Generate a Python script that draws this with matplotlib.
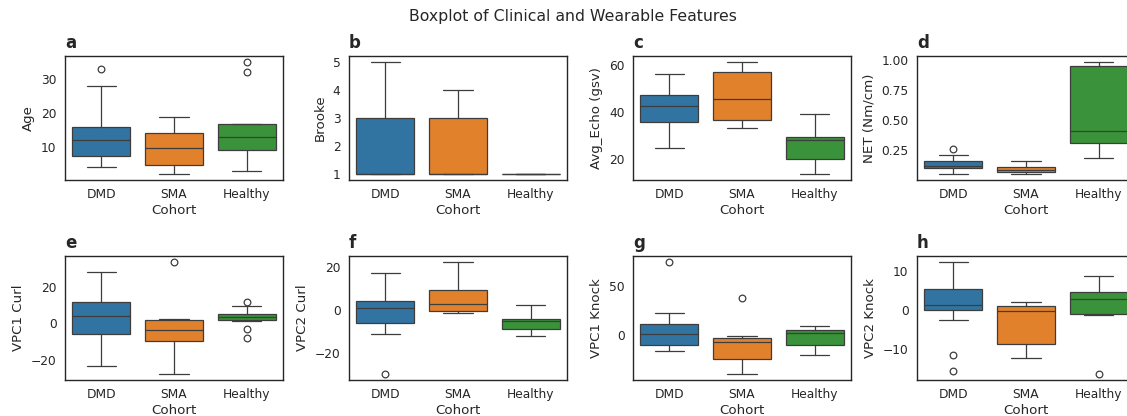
import matplotlib
matplotlib.use("Agg")
import matplotlib.pyplot as plt
import seaborn as sns

sns.set_theme(style="white", context="paper")
plt.rcParams['font.family'] = ['DejaVu Sans']
plt.rcParams['xtick.major.size'] = 2.6
plt.rcParams['ytick.major.size'] = 2.6
plt.rcParams['axes.labelpad'] = 1.8

# ---- data ----
cohorts = ["DMD", "SMA", "Healthy"]
panel_letters = ["a", "b", "c", "d", "e", "f", "g", "h"]
feature_labels = ["Age", "Brooke", "Avg_Echo (gsv)", "NET (Nm/cm)",
                  "VPC1 Curl", "VPC2 Curl", "VPC1 Knock", "VPC2 Knock"]

# each row: [whislo, q1, median, q3, whishi] for DMD, SMA, Healthy
age_box = [[4.2, 7.45, 12.2, 15.9, 28.0], [2.06, 4.9, 9.7, 14.3, 19.0], [3.1, 9.1, 13.1, 17.0, 17.0]]
age_fliers = [[33.0], [], [35.2, 32.1]]
brooke_box = [[1, 1, 1, 3, 5], [1, 1, 1, 3, 4], [1, 1, 1, 1, 1]]
brooke_fliers = [[], [], []]
echo_box = [[24.9, 36.0, 42.7, 47.6, 56.3], [33.3, 36.7, 45.7, 57.4, 61.6], [13.6, 20.1, 28.1, 29.3, 39.1]]
echo_fliers = [[], [], []]
net_box = [[0.054, 0.102, 0.121, 0.163, 0.216], [0.051, 0.074, 0.090, 0.113, 0.160], [0.186, 0.312, 0.412, 0.950, 0.989]]
net_fliers = [[0.258], [], []]
vpc1curl_box = [[-23.1, -5.8, 4.2, 11.8, 28.0], [-27.6, -9.6, -3.3, 2.0, 2.4], [1.5, 1.8, 3.6, 5.3, 9.5]]
vpc1curl_fliers = [[], [33.5], [11.8, -3.1, -7.8]]
vpc2curl_box = [[-11.0, -5.8, 1.1, 4.2, 17.1], [-1.4, -0.2, 2.8, 9.3, 22.6], [-12.1, -9.0, -5.1, -4.0, 2.5]]
vpc2curl_fliers = [[-29.9], [], []]
vpc1knock_box = [[-15.8, -10.3, 1.4, 11.6, 21.9], [-40.1, -24.0, -7.2, -2.7, -1.0], [-20.5, -10.6, 2.4, 5.5, 9.2]]
vpc1knock_fliers = [[74.7], [38.0], []]
vpc2knock_box = [[-2.6, -0.1, 1.4, 5.3, 12.4], [-12.4, -8.8, -0.2, 0.9, 2.0], [-1.2, -1.1, 2.9, 4.7, 8.6]]
vpc2knock_fliers = [[-11.5, -15.6], [], [-16.5]]

all_boxes = [age_box, brooke_box, echo_box, net_box,
             vpc1curl_box, vpc2curl_box, vpc1knock_box, vpc2knock_box]
all_fliers = [age_fliers, brooke_fliers, echo_fliers, net_fliers,
              vpc1curl_fliers, vpc2curl_fliers, vpc1knock_fliers, vpc2knock_fliers]

palette = ["#3274a1", "#e1812c", "#3a923a"]
line_color = "#3d3d3d"
lw = 0.9

W, H = 1127, 416
fig = plt.figure(figsize=(W / 100, H / 100), dpi=100)


def add_ax(left, top, w, h):
    return fig.add_axes([left / W, 1 - (top + h) / H, w / W, h / H])


lefts = [65, 349, 633, 917]
tops = [56, 256]
ax_w, ax_h = 218, 124

for i in range(8):
    r, c = divmod(i, 4)
    ax = add_ax(lefts[c], tops[r], ax_w, ax_h)
    stats = []
    for j, name in enumerate(cohorts):
        lo, q1, med, q3, hi = all_boxes[i][j]
        stats.append(dict(whislo=lo, q1=q1, med=med, q3=q3, whishi=hi,
                          fliers=all_fliers[i][j], label=name))
    res = ax.bxp(stats, positions=[0, 1, 2], widths=0.8, capwidths=0.4,
                 patch_artist=True, showfliers=True,
                 boxprops=dict(edgecolor=line_color, linewidth=lw),
                 whiskerprops=dict(color=line_color, linewidth=lw),
                 capprops=dict(color=line_color, linewidth=lw),
                 medianprops=dict(color=line_color, linewidth=lw),
                 flierprops=dict(marker="o", markerfacecolor="none",
                                 markeredgecolor=line_color, markersize=4.8,
                                 markeredgewidth=lw))
    for patch, col in zip(res["boxes"], palette):
        patch.set_facecolor(col)
    ax.set_xlim(-0.5, 2.5)
    ax.set_xticks([0, 1, 2], cohorts)
    ax.set_xlabel("Cohort")
    ax.set_ylabel(feature_labels[i], labelpad=4.2)
    ax.set_title(panel_letters[i], loc="left", fontweight="bold", fontsize=12)

fig.text(573 / W, 1 - 16 / H, "Boxplot of Clinical and Wearable Features",
         ha="center", va="center", fontsize=11.3, color=".15")

fig.savefig("out.png", dpi=100)
